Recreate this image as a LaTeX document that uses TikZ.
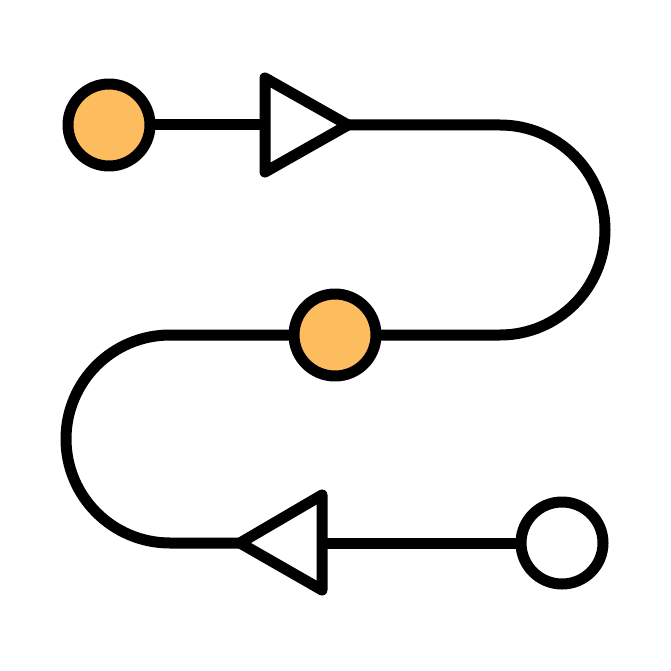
\documentclass[tikz,border=0pt]{standalone}
\usetikzlibrary{backgrounds}
\begin{document}
\begin{tikzpicture}[x=1pt,y=-1pt,
  stroke/.style={line width=11pt,line cap=round,line join=round,draw=black},
  dot/.style={stroke,circle,minimum size=82pt,inner sep=0pt},
  tri/.style={stroke,fill=white}]
\definecolor{orng}{HTML}{FDBD5F}
\useasboundingbox (0,0) rectangle (671,671);
\node[dot,fill=orng] (c1) at (109,125) {};
\node[dot,fill=orng] (c2) at (335,335) {};
\node[dot,fill=white] (c3) at (562,543) {};
\coordinate (t1a) at (265,125);
\coordinate (t1b) at (348,125);
\coordinate (t2a) at (322,543);
\coordinate (t2b) at (240,543);
\begin{pgfonlayer}{background}
\draw[stroke] (c1) -- (t1a);
\draw[stroke] (t1b) -- (500,125) arc[start angle=-90,end angle=90,radius=105] -- (c2);
\draw[stroke] (c2) -- (170,335) arc[start angle=-90,end angle=-270,radius=104] -- (t2b);
\draw[stroke] (c3) -- (t2a);
\end{pgfonlayer}
\draw[tri] (265,78) -- (348,125) -- (265,172) -- cycle;
\draw[tri] (322,495) -- (240,543) -- (322,590) -- cycle;
\end{tikzpicture}
\end{document}
